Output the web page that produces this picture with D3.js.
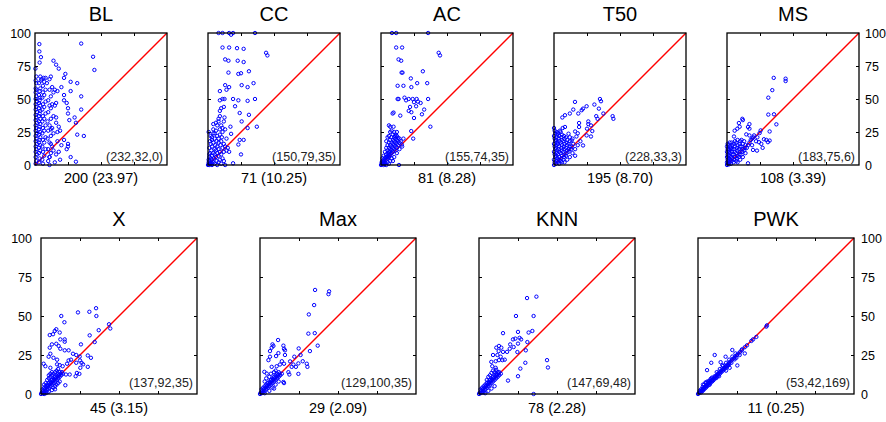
<!DOCTYPE html>
<html><head><meta charset="utf-8">
<script src="https://cdn.jsdelivr.net/npm/d3@7"></script>
<style>body{margin:0;background:#fff}svg{display:block}</style>
</head><body><svg id="c" width="886" height="422"></svg>
<script>
const panelNames = ["BL","CC","AC","T50","MS","X","Max","KNN","PWK"];
const xLabels = ["200 (23.97)","71 (10.25)","81 (8.28)","195 (8.70)","108 (3.39)","45 (3.15)","29 (2.09)","78 (2.28)","11 (0.25)"];
const annotations = ["(232,32,0)","(150,79,35)","(155,74,35)","(228,33,3)","(183,75,6)","(137,92,35)","(129,100,35)","(147,69,48)","(53,42,169)"];
const tickValues = [0,25,50,75,100];

const blData = [[0.5,1],[1,3],[0.5,6],[1.5,8],[0.5,10],[1,12],[0.5,14],[1.5,16],[0.5,18],[1,20],[0.5,22],[1.5,24],[0.5,26],[1,28],[0.5,30],[1.5,32],[0.5,34],[1,36],[0.5,38],[1.5,40],[0.5,42],[1,44],[0.5,46],[1.5,48],[0.5,50],[1,52],[0.5,55],[1,57],[0.5,58],[1,62],[0.5,64],[1,67],[0.3,73],
[3,2],[3.5,5],[3,9],[4,11],[3,13],[4,15],[3,17],[3.5,19],[4,21],[3,23],[4,25],[3,27],[3.5,29],[4,31],[3,33],[4,35],[3,37],[3.5,39],[4,41],[3,43],[4,45],[3,47],[3.5,49],[4,51],[3,53],[3.5,56],[4,58],[3,62],[4.5,64],[3.3,91.6],[3.3,86],[3.5,77.6],[4.5,81.7],[4,67],
[6,1],[5.5,4],[7,7],[6,10],[8,12],[5.5,14],[7,17],[6,19],[8,21],[5.5,24],[7,26],[6,28],[8,30],[5.5,33],[7,35],[6,37],[8,39],[5.5,42],[7,44],[6,46],[8,48],[5.5,51],[7,53],[6,55],[8,57],[6,60],[7,63],[5,65],[6.5,66],[8,66],[9,62],
[10,3],[11,6],[12,9],[10,12],[13,14],[11,17],[9.5,20],[12,22],[14,24],[10,26],[12,27],[13,28],[11,30],[9.5,33],[12,35],[14,37],[10,40],[12,43],[11,45],[13,46],[10,49],[12,52],[14,55],[11,57],[13,59],[11,65],[12,67],[11,0],[12,16],
[14,79],[16,76],[18,73],[23,69],[22,66],[27,63],[32,62],[20,59],[27,56],[35,52],[22,53],[22,49],[24,47],[25,43],[35,42],[25,39],[30,36],[31,32],[26,34],[16,36],[16,32],[18,29],[19,26],[32,23],[37,22],[22,19],[25,16],[25,14],[24,12],[27,6],[31,2.5],[17,18],[11,6],[15,2],[35,92],[44,82],[45,72],[15,45],[16,47],[17,56],[15,57],[18,10],[16,8],[19,4],[14,11],[20,15],[17,25]];

const ccData = [[8,100],[11,100],[16,100],[19,100],[35.6,100],[17.5,98.7],[11,89],[16,89],[22,88.5],[27,88],[44,85],[45,83],[13,80],[15.5,79],[22.5,79],[27,78],[15.5,70],[25,69.5],[31,71],[23,69],[13,60.5],[16,59],[14,57],[9,56],[25.5,60.5],[30,59],[34.5,62],[11,50],[12.5,50],[9,49],[19,50],[23,49],[30,48.6],[35.6,50],[12,44],[10,43],[9,41],[20.5,44.5],[24,39.4],[31,38],[12.5,36],[8,35],[25.5,33],[4,31],[7,30],[17,29],[30,28],[37,29],[4,24],[3,21],[8,20],[10.5,21],[17.5,23.6],[24,19],[27,19],[23,15.5],[25,8],[19,1.3],[13,0],
[0,0],[0.5,0.5],[1,0],[1.5,1],[0.5,2],[2,1],[1,3],[2.5,2],[3,0],[0.5,4],[2,5],[3,4],[4,2],[1,6],[3,7],[4.5,5],[5,1],[1.5,9],[2.5,11],[4,9],[5,8],[6,6],[6.5,3],[7,0],[1,13],[3,14],[5,12],[6,11],[7,9],[8,7],[9,4],[2,16],[4,17],[5.5,15],[7,14],[8,12],[9,10],[10,8],[11,5],[3,19],[5,20],[6.5,18],[8,17],[9.5,15],[11,13],[12,10],[2,22],[5,24],[7,22],[9,23],[10,18],[12,16],[13,14],[14,11],[15,13],[16,10],[4,27],[6,26],[9,27],[11,25],[6,32],[8,33],[10,30],[11,28],[9,37],[12,33],[13,27],[14,20],[3,1],[8,2],[10,1],[12,3],[1.5,18],[0.5,25],[1,8]];

const acData = [[8.3,100],[11.5,100],[35.7,100],[11.5,89],[16,89],[43.7,85],[44.7,83],[13.3,80],[15.3,79],[15.6,70],[16.3,70],[31.7,71],[22.6,65.6],[27.4,62],[35,62],[12.6,60],[17,60],[23,59],[12.6,50],[13.3,50],[17.8,51],[19,49],[21,50],[24,50],[27,50],[28,48],[35.7,50],[25,47.6],[30,47],[22,44],[26.6,44.5],[32.7,42],[21,41],[23,40],[9.5,39.7],[8.8,39],[14.6,37.4],[25,35.6],[31,38.4],[37.4,29],[6,30],[7,29],[9.5,29],[7,25],[10.8,21.9],[13,20.6],[15.8,15.5],[17,20],[22.9,25.7],[24.4,20],[13.6,0],
[0,0],[0.5,0.5],[1,1],[1.5,2],[2,1],[0.5,2],[1,3],[2.5,3],[3,2],[2,4],[3,5],[4,4],[3.5,6],[4.5,6],[5,5],[1,5],[2,7],[4,8],[5,7],[6,6],[5.5,9],[6.5,8],[7,7],[3,10],[5,11],[6,10],[7,10],[8,9],[4,13],[6,13],[7,12],[8,11],[9,10],[5,15],[7,15],[8,14],[9,13],[10,12],[11,11],[6,17],[8,17],[9,16],[10,15],[11,14],[12,13],[7,19],[9,19],[10,18],[11,17],[12,16],[13,15],[8,21],[10,21],[11,20],[12,19],[13,18],[14,17],[9,23],[11,23],[12,22],[14,20],[15,18],[10,25],[12,25],[5,21],[4,18],[6,22],[8,26],[3,1],[5,2],[7,3],[8,5],[10,6],[12,9],[14,12],[16,14],[2,0],[4,0],[6,1],[9,3]];

const t50Data = [[15.9,47.8],[14.6,42],[18.4,39],[12,39],[8.3,37.7],[6.3,36],[22,42.7],[24.7,44.5],[21,41.5],[34.8,50],[35.6,48.3],[34,42.7],[30.6,45.8],[32,37],[33,35],[37.4,39],[44.4,37],[45,35],[26,33],[26,31],[28,30],[25,27.5],[29,25.7],[24.7,22.4],[28,21.6],[19,31.8],[19,28.8],[16,25.4],[18,24],[17,21.6],[22,14.8],[16,7],[8.3,28.8],[6.6,28],[11,23.7],[12,21],[13.4,18.6],[14.6,16],
[0,0],[0.5,2],[0,4],[1,6],[0.5,8],[0,10],[1,12],[0.5,14],[0,16],[1,18],[0.5,20],[0,22],[1,24],[0.5,26],[0,28],[1.5,1],[2,3],[2.5,5],[1.5,7],[2,9],[2.5,11],[1.5,13],[2,15],[2.5,17],[1.5,19],[2,21],[2.5,23],[2,25],
[3,2],[3.5,4],[4,6],[3,8],[4,10],[3.5,12],[4,14],[3,16],[4,18],[3.5,20],[4,22],[3,24],[4.5,26],[5,3],[5.5,5],[6,7],[5,9],[6,11],[5.5,13],[6,15],[5,17],[6,19],[5.5,21],[6,23],[5,25],[7,4],[7.5,6],[8,8],[7,10],[8,12],[7.5,14],[8,16],[7,18],[8,20],[7.5,22],[9,7],[9.5,9],[10,11],[9,13],[10,15],[9.5,17],[10,19],[9,21],[11,10],[11.5,12],[12,14],[11,16],[12,18],[13,12],[13.5,14],[14,20],[8,2],[10,4],[12,6],[14,9],[16,12],[18,15],[20,18],[4,1],[6,2]];

const msData = [[35.4,66],[44.4,65.4],[44.4,63.6],[34.3,56.7],[31.3,51],[35.6,38.4],[31.3,38.2],[37.4,30.8],[32.3,25.4],[25.5,26.2],[24.7,24.2],[20.5,22.4],[17,22.4],[14.6,23.2],[15.9,28.8],[17,27.5],[11.6,35],[12,34],[9,31.8],[7.8,27.5],[5.8,26],[5.3,21.6],[9.6,29],[17,31],[29.8,19],[31,17.3],[32.3,18.5],[26,16],[22.7,10.9],[19.7,11.4],[15.9,1.3],[24.2,17.3],[28,19.5],[22,18],[19,15],[27,13],[23,21],
[0,0],[0.5,1],[0,2],[1,3],[0.5,4],[0,6],[1,7],[0.5,8],[0,10],[1,11],[0.5,12],[0,14],[1,15],[0.5,16],[1.5,0.5],[2,2],[2.5,4],[1.5,5],[2,7],[2.5,9],[1.5,10],[2,12],[2.5,14],[2,17],[3,1],[3.5,3],[4,5],[3,6],[4,8],[3.5,10],[4,12],[3,13],[4,15],[3.5,17],[5,2],[5.5,4],[6,6],[5,8],[6,10],[5.5,12],[6,14],[5,16],[6,18],[7,3],[7.5,5],[8,7],[7,9],[8,11],[7.5,13],[8,15],[7,17],[8,19],[9,6],[9.5,8],[10,10],[9,12],[10,14],[9.5,16],[10,18],[11,8],[11.5,10],[12,12],[11,14],[12,16],[11,19],[13,11],[13.5,13],[14,15],[13,18],[15,13],[16,15],[17,17],[18,19],[19,20],[20,21],[14,9],[12,6],[10,4],[8,2]];

const xData = [[35.3,55],[31,52.7],[23.7,52.3],[35.5,50],[13,50],[15,46],[43.6,44.7],[44.4,42],[37,40.9],[9.8,41.5],[8.8,40.4],[12,39.4],[5.6,37.8],[7.7,38.3],[31.2,37.6],[34.4,33.3],[25.6,31.8],[12.4,35],[15.2,35],[15.2,33.5],[9.8,32.2],[11.3,30.8],[12.4,29],[5.6,29.7],[7,31.8],[15.2,28],[17.7,28],[6,25.8],[4.9,23.9],[8,23.2],[10.3,22],[30,24.7],[32,23.2],[20.5,25.8],[22.6,25],[24.8,24],[25,21.5],[22.6,20],[26,20],[27,19],[1.7,19.4],[2.8,17.8],[6,16.8],[10.3,19],[12,18.5],[13.9,17.8],[16.7,19.4],[17.7,21.5],[19.2,22],[30,17.4],[25.2,16.8],[23,13.5],[24.6,12.9],[22.2,11.4],[18.4,12.5],[16,12.5],[15.6,5.6],
[0,0],[0.5,1],[1,0.5],[1.5,2],[2,1],[1,3],[2.5,3],[3,2],[2,4],[3.5,4],[4,3],[3,5],[4.5,5],[5,4],[4,6],[5.5,6],[6,5],[5,7],[6.5,7],[7,6],[6,8],[7.5,8],[8,7],[7,9],[8.5,9],[9,8],[8,10],[9.5,10],[10,9],[9,11],[10.5,11],[11,10],[10,12],[11.5,12],[12,11],[11,13],[12.5,13],[13,12],[12,14],[13.5,14],[14,13],[3,7],[4,9],[5,10],[6,11],[7,12],[8,13],[9,14],[10,15],[11,16],[6,13],[7,14],[5,12],[2,6],[8,4],[9,5],[10,6],[11,7],[12,8],[3,0.5],[5,1.5],[7,2.5],[9,3],[2,0],[4,1]];

const maxData = [[35.3,66.7],[44.3,65.8],[43.9,64],[34.7,57],[31.3,51],[31,38.7],[35.1,39],[37,31],[32,27.5],[24.8,29.2],[11.6,34.6],[8.6,30.8],[8,31.8],[7.5,29.7],[15,31],[15.4,29],[16,28],[6.4,27.5],[6.4,23.9],[10.3,24.3],[11.8,26.2],[16,25],[22,23.9],[26,25],[5.4,21.7],[7.5,17.4],[10.7,17.8],[12.8,18.9],[14,21],[15.4,19.4],[19.3,20.9],[21.4,18.9],[24.6,19.6],[27.4,21],[30,19.4],[30.4,17.4],[20.3,17.4],[23,17.4],[24.6,12.9],[18.2,14],[18.8,12.5],[15,7.7],[15.4,7],[2.8,14.2],[4.3,13.1],
[0,0],[0.5,1],[1,0.5],[1.5,2],[2,1],[1,3],[2.5,3],[3,2],[2,4],[3.5,4],[4,3],[3,5],[4.5,5],[5,4],[4,6],[5.5,6],[6,5],[5,7],[6.5,7],[7,6],[6,8],[7.5,8],[8,7],[7,9],[8.5,9],[9,8],[8,10],[9.5,10],[10,9],[9,11],[10.5,11],[11,10],[10,12],[11.5,12],[12,11],[11,13],[12.5,13],[13,12],[12,14],[14,13],[3,8],[4,10],[6,11],[7,13],[9,14],[10,15],[8,4],[10,6],[12,8],[3,0.5],[6,2],[9,3.5]];

const knnData = [[30.8,61.5],[36.8,62.4],[23.7,50],[35,50],[15.4,39],[25,39.8],[23.3,35.5],[21.8,35],[26,36],[27,35],[31.8,39.4],[34.2,40.4],[31,33.3],[25,32.3],[22.2,30.1],[20,31.8],[19.7,29],[12.8,30.8],[11.1,29.7],[14.3,29.7],[12.6,27.5],[15.4,27],[18,27],[9,25],[11.8,25],[13.9,23.9],[12.8,21.7],[15,21.7],[16.5,22],[10.7,21],[7.9,20.6],[8.5,17.8],[10.7,16.8],[24.6,26.9],[30,28],[29.7,20],[43.6,21.7],[44.2,17],[26.5,16.3],[25,11.4],[18.6,8.6],[35,0],
[0,0],[0.5,1],[1,0.5],[1.5,2],[2,1],[1,3],[2.5,3],[3,2],[2,4],[3.5,4],[4,3],[3,5],[4.5,5],[5,4],[4,6],[5.5,6],[6,5],[5,7],[6.5,7],[7,6],[6,8],[7.5,8],[8,7],[7,9],[8.5,9],[9,8],[8,10],[9.5,10],[10,9],[9,11],[10.5,11],[11,10],[10,12],[11.5,12],[12,11],[11,13],[12.5,13],[13,12],[12,14],[5,9],[6,11],[7,12],[8,13.5],[9,15],[10,14],[11,15.5],[13,14],[14,13],[4,0.5],[6,2],[8,3.5],[10,5],[3,1]];

const pwkData = [[44.2,44],[43.8,43.2],[37.4,36.6],[35.3,35],[34.2,34],[31.4,31.2],[30,30],[28.2,28.6],[22,28.2],[17.7,23.9],[10.7,25],[8.5,20],[5.8,15.3],[14.5,20.4],[15.6,18.5],[25.2,18.3],[30,26],[26.7,25],[24.6,23.2],[23.5,22.2],[21.4,20],[19.2,18.5],[17,16.8],[15,15],[12.8,13],[10.7,11.4],[8.5,9.9],[7,8.2],[4.9,7.5],[3.2,6],[18,15],[20.3,16.8],[13.5,11.4],[11.8,10.3],[9.6,8.6],[7.5,6],[5.3,5],[3.2,2.8],
[0,0],[0.5,0.5],[1,1],[1.5,1.5],[2,2],[2.5,2.5],[3,3],[3.5,3.5],[4,4],[4.5,4.5],[5,5],[5.5,5.5],[6,6],[6.5,6.5],[7,7],[7.5,7.5],[8,8],[9,9],[10,10],[11,11],[12,12],[13,13],[14,14],[15,15],[16,16],[17,17],[18,18],[19,19],[20,20],[21,21],[22,22],[23,23],[24,24],[25,25],[26,26],[27,27],[28,28],[1,2],[2,3],[3,4.5],[4,6],[5,7],[6,8],[2,1],[3,2],[4,3],[5,4],[6,5],[7,6],[8,7],[9,8],[10,9],[11,10],[12,11],[13,12],[14,13],[15,14],[16,15],[17,16],[18,17],[19,18],[20,19],[12,14],[14,16],[16,18],[18,20],[20,22],[22,24],[24,26],[9,10.5],[8,9.5]];

const panelData = [blData, ccData, acData, t50Data, msData, xData, maxData, knnData, pwkData];

// layout
const rows = [
  {first:0, count:5, left:35, step:173, size:132, top:33, titleY:21, xlabY:183, annoY:161, leftGap:4, rightGap:6},
  {first:5, count:4, left:41, step:219, size:156, top:238, titleY:226, xlabY:413, annoY:387, leftGap:9, rightGap:7}
];
const FONT = "'Liberation Sans', Arial, Helvetica, sans-serif";
const svg = d3.select("#c");

rows.forEach(r => {
  for (let j = 0; j < r.count; j++) {
    const idx = r.first + j;
    const x0 = r.left + j * r.step, y0 = r.top, s = r.size;
    const xs = d3.scaleLinear().domain([0,100]).range([x0, x0 + s]);
    const ys = d3.scaleLinear().domain([0,100]).range([y0 + s, y0]);
    const g = svg.append("g");

    // inward ticks on all four sides
    const tl = 3;
    const noDomain = a => a.select(".domain").remove();
    g.append("g").attr("transform", `translate(0,${y0+s})`)
      .call(d3.axisTop(xs).tickValues([25,50,75]).tickSize(tl).tickFormat("")).call(noDomain);
    g.append("g").attr("transform", `translate(0,${y0})`)
      .call(d3.axisBottom(xs).tickValues([25,50,75]).tickSize(tl).tickFormat("")).call(noDomain);
    g.append("g").attr("transform", `translate(${x0},0)`)
      .call(d3.axisRight(ys).tickValues([25,50,75]).tickSize(tl).tickFormat("")).call(noDomain);
    g.append("g").attr("transform", `translate(${x0+s},0)`)
      .call(d3.axisLeft(ys).tickValues([25,50,75]).tickSize(tl).tickFormat("")).call(noDomain);
    g.selectAll(".tick line").attr("stroke", "#000").attr("stroke-width", 1);

    // tick labels
    if (j === 0) {
      g.append("g").attr("transform", `translate(${x0 - r.leftGap},0)`)
        .call(d3.axisLeft(ys).tickValues(tickValues).tickSize(0).tickPadding(0)).call(noDomain)
        .selectAll("text").attr("font-family", FONT).attr("font-size", 12.5).attr("fill", "#000");
    }
    if (j === r.count - 1) {
      g.append("g").attr("transform", `translate(${x0 + s + r.rightGap},0)`)
        .call(d3.axisRight(ys).tickValues(tickValues).tickSize(0).tickPadding(0)).call(noDomain)
        .selectAll("text").attr("font-family", FONT).attr("font-size", 12.5).attr("fill", "#000");
    }

    // diagonal
    g.append("line")
      .attr("x1", xs(0)).attr("y1", ys(0)).attr("x2", xs(100)).attr("y2", ys(100))
      .attr("stroke", "#ff0000").attr("stroke-width", 1.4);

    // points
    g.append("g").selectAll("circle").data(panelData[idx]).join("circle")
      .attr("cx", d => xs(d[0])).attr("cy", d => ys(d[1])).attr("r", 1.7)
      .attr("fill", "none").attr("stroke", "#0000ff").attr("stroke-width", 1);

    // frame
    g.append("rect").attr("x", x0).attr("y", y0).attr("width", s).attr("height", s)
      .attr("fill", "none").attr("stroke", "#000").attr("stroke-width", 1.3);

    // annotation
    g.append("text").attr("x", x0 + s - 4).attr("y", r.annoY).attr("text-anchor", "end")
      .attr("font-family", FONT).attr("font-size", 12.5).attr("fill", "#222").text(annotations[idx]);

    // title
    g.append("text").attr("x", x0 + s/2).attr("y", r.titleY).attr("text-anchor", "middle")
      .attr("font-family", FONT).attr("font-size", 20).attr("fill", "#000").text(panelNames[idx]);

    // x label
    g.append("text").attr("x", x0 + s/2).attr("y", r.xlabY).attr("text-anchor", "middle")
      .attr("font-family", FONT).attr("font-size", 14.5).attr("fill", "#000").text(xLabels[idx]);
  }
});
</script></body></html>
